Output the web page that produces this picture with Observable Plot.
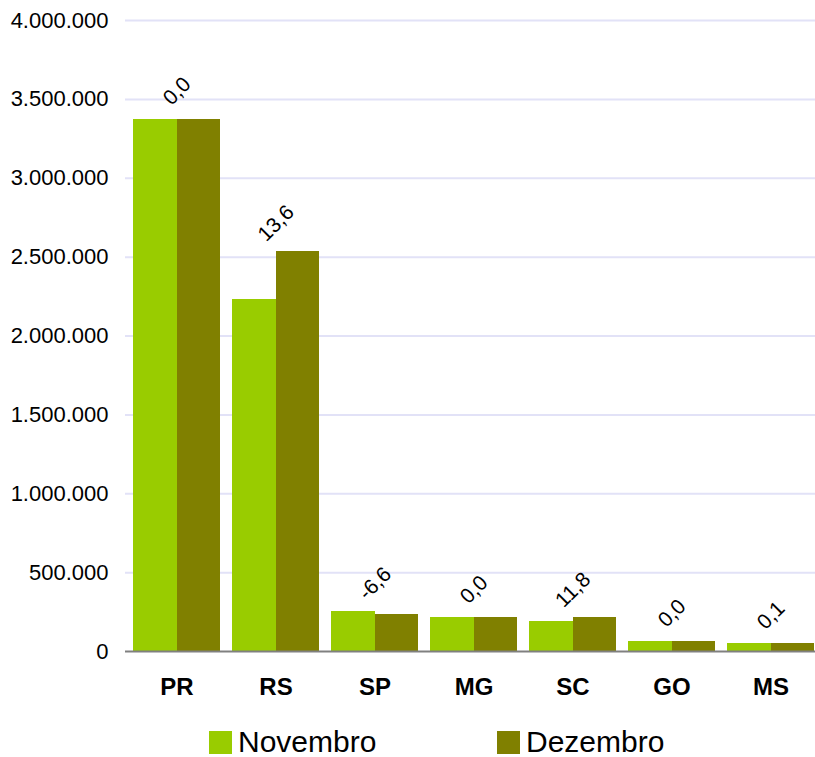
<!DOCTYPE html>
<html>
<head>
<meta charset="utf-8">
<script src="https://cdn.jsdelivr.net/npm/d3@7"></script>
<script src="https://cdn.jsdelivr.net/npm/@observablehq/plot@0.6"></script>
<style>
  html, body { margin: 0; padding: 0; background: #fff; overflow: hidden; }
  body { width: 815px; height: 757px; font-family: "Liberation Sans", Arial, sans-serif; }
  #legend { position: relative; height: 42px; }
  .item { position: absolute; top: 12px; display: flex; align-items: center; font-size: 30px; color: #000; line-height: 30px; height: 30px; }
  .sw { width: 23px; height: 23px; margin-right: 6px; flex: none; }
  .tx { display: inline-block; line-height: 30px; }
</style>
</head>
<body>
<div id="chart"></div>
<div id="legend"></div>
<script>
const states = ["PR", "RS", "SP", "MG", "SC", "GO", "MS"];
const novembro = [3375000, 2233000, 254000, 215000, 190000, 65000, 52000];
const dezembro = [3375000, 2537000, 237000, 215000, 213000, 65000, 52000];
const variacao = ["0,0", "13,6", "-6,6", "0,0", "11,8", "0,0", "0,1"];
const yTicks = [0, 500000, 1000000, 1500000, 2000000, 2500000, 3000000, 3500000, 4000000];
const seriesNames = ["Novembro", "Dezembro"];
const seriesColors = ["#99cc00", "#808000"];

const data = states.map((s, i) => ({
  state: s,
  nov: novembro[i],
  dez: dezembro[i],
  top: Math.max(novembro[i], dezembro[i]),
  label: variacao[i]
}));

const xOpts = {type: "band", domain: states, range: [125, 823], paddingInner: 0.12, paddingOuter: 0.06};
const half = Plot.scale({x: xOpts}).bandwidth / 2;
const fmt = d => d3.format(",")(d).replace(/,/g, ".");

const chart = Plot.plot({
  width: 815,
  height: 715,
  marginLeft: 125,
  marginRight: 0,
  marginTop: 20,
  marginBottom: 64,
  style: {fontFamily: "'Liberation Sans', Arial, sans-serif", background: "#fff", color: "#000"},
  x: {...xOpts, label: null},
  y: {domain: [0, 4000000], label: null},
  marks: [
    Plot.ruleY(yTicks.filter(d => d > 0), {stroke: "#e2e2f7", strokeWidth: 2}),
    Plot.barY(data, {x: "state", y: "nov", fill: seriesColors[0], insetLeft: 0, insetRight: half - 0.5, shapeRendering: "crispEdges"}),
    Plot.barY(data, {x: "state", y: "dez", fill: seriesColors[1], insetLeft: half, insetRight: 0, shapeRendering: "crispEdges"}),
    Plot.ruleY([0], {stroke: "#808080", strokeWidth: 2}),
    Plot.axisY({ticks: yTicks, tickFormat: fmt, tickSize: 0, tickPadding: 17, fontSize: 22, label: null}),
    Plot.axisX({tickSize: 0, tickPadding: 26, fontSize: 24, fontWeight: "bold", label: null}),
    Plot.text(data, {x: "state", y: "top", text: "label", rotate: -45, dy: -28, fontSize: 21, fill: "#000"})
  ]
});
document.getElementById("chart").appendChild(chart);

const legend = document.getElementById("legend");
const lefts = [209, 497];
seriesNames.forEach((name, i) => {
  const item = document.createElement("div");
  item.className = "item";
  item.style.left = lefts[i] + "px";
  const sw = document.createElement("span");
  sw.className = "sw";
  sw.style.background = seriesColors[i];
  const t = document.createElement("span");
  t.className = "tx";
  t.textContent = name;
  item.appendChild(sw);
  item.appendChild(t);
  legend.appendChild(item);
});
</script>
</body>
</html>
